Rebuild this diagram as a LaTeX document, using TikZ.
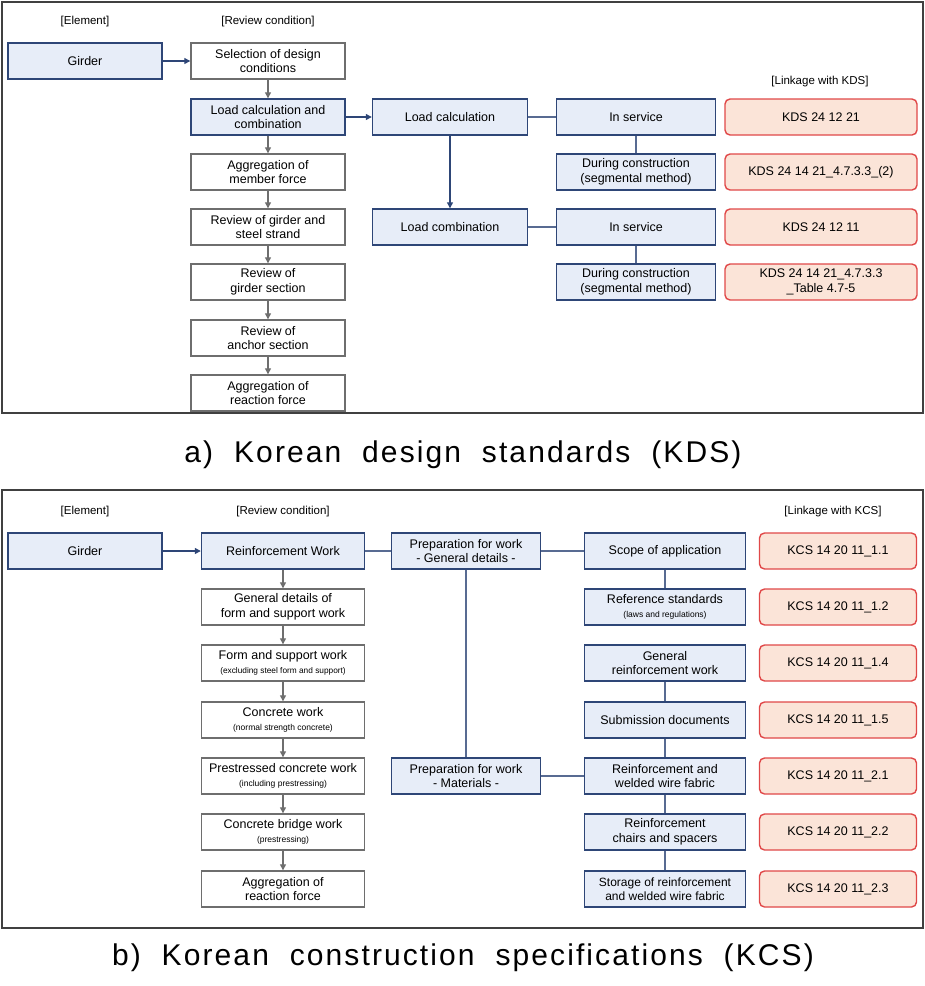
\documentclass[tikz,border=0pt]{standalone}
\usepackage{fontspec}
\setmainfont{Liberation Sans}
\newfontfamily\capfont[LetterSpace=7,WordSpace=2.0]{Liberation Sans}
\usetikzlibrary{arrows.meta}
\definecolor{bfill}{HTML}{E7EDF8}
\definecolor{bdraw}{HTML}{2E4677}
\definecolor{gdraw}{HTML}{6E6E6E}
\definecolor{rdraw}{HTML}{E04848}
\definecolor{rfill}{HTML}{FBE4D8}
\begin{document}
\begin{tikzpicture}[x=1pt,y=-1pt,
  base/.style={draw, line width=1.4pt, align=center, inner sep=1pt, font=\fontsize{12.5}{14.5}\selectfont},
  blue/.style={base, fill=bfill, draw=bdraw},
  gray/.style={base, fill=white, draw=gdraw},
  red/.style={base, fill=rfill, draw=rdraw, rounded corners=5pt},
  hdr/.style={font=\fontsize{11.5}{13}\selectfont},
  garr/.style={draw=gdraw, line width=1.2pt, -{Triangle[length=6pt,width=6pt]}},
  barr/.style={draw=bdraw, line width=1.2pt, -{Triangle[length=6pt,width=6pt]}},
  bl/.style={draw=bdraw!80, line width=1.2pt}]
\useasboundingbox (0,0) rectangle (925,986);
\draw[line width=1.2pt, black!75] (2,2) rectangle (923,413);
\draw[line width=1.2pt, black!75] (2,490) rectangle (923,928);
% panel a
\node[hdr] (ha1) at (85,22) {[Element]};
\node[hdr] (ha2) at (268,22) {[Review condition]};
\node[hdr] (ha3) at (820,82) {[Linkage with KDS]};
\node[blue, minimum width=154, minimum height=36] (ag) at (85,61) {Girder};
\tikzset{rc/.style={minimum width=154, minimum height=36}}
\node[gray, rc] (a1) at (268,61) {Selection of design\\conditions};
\node[blue, rc] (a2) at (268,117) {Load calculation and\\combination};
\node[gray, rc] (a3) at (268,172) {Aggregation of\\member force};
\node[gray, rc] (a4) at (268,227) {Review of girder and\\steel strand};
\node[gray, rc] (a5) at (268,282) {Review of\\girder section};
\node[gray, rc] (a6) at (268,338) {Review of\\anchor section};
\node[gray, rc] (a7) at (268,393) {Aggregation of\\reaction force};
\node[blue, minimum width=155, minimum height=36] (alc) at (450,117) {Load calculation};
\node[blue, minimum width=155, minimum height=36] (alm) at (450,227) {Load combination};
\tikzset{sc/.style={minimum width=159, minimum height=36}}
\node[blue, sc] (s1) at (636,117) {In service};
\node[blue, sc] (s2) at (636,172) {During construction\\(segmental method)};
\node[blue, sc] (s3) at (636,227) {In service};
\node[blue, sc] (s4) at (636,282) {During construction\\(segmental method)};
\tikzset{kc/.style={minimum width=192, minimum height=36}}
\node[red, kc] (k1) at (821,117) {KDS 24 12 21};
\node[red, kc] (k2) at (821,172) {KDS 24 14 21\_4.7.3.3\_(2)};
\node[red, kc] (k3) at (821,227) {KDS 24 12 11};
\node[red, kc] (k4) at (821,282) {KDS 24 14 21\_4.7.3.3\\\_Table 4.7-5};
\draw[barr] (ag) -- (a1);
\foreach \i/\j in {a1/a2,a2/a3,a3/a4,a4/a5,a5/a6,a6/a7} \draw[garr] (\i) -- (\j);
\draw[barr] (a2) -- (alc);
\draw[barr] (alc) -- (alm);
\draw[bl] (alc) -- (s1); \draw[bl] (s1) -- (s2);
\draw[bl] (alm) -- (s3); \draw[bl] (s3) -- (s4);
\node[font=\capfont\fontsize{30}{34}\selectfont] (capa) at (463,455) {a) Korean design standards (KDS)};
% panel b
\node[hdr] (hb1) at (85,512) {[Element]};
\node[hdr] (hb2) at (283,512) {[Review condition]};
\node[hdr] (hb3) at (833,512) {[Linkage with KCS]};
\node[blue, minimum width=154, minimum height=36] (bg) at (85,551) {Girder};
\tikzset{rb/.style={minimum width=163, minimum height=36}}
\node[blue, rb] (b1) at (283,551) {Reinforcement Work};
\node[gray, rb] (b2) at (283,607) {General details of\\form and support work};
\node[gray, rb] (b3) at (283,663) {Form and support work\\{\fontsize{8.3}{10}\selectfont (excluding steel form and support)}};
\node[gray, rb] (b4) at (283,720) {Concrete work\\{\fontsize{8.5}{10}\selectfont (normal strength concrete)}};
\node[gray, rb] (b5) at (283,776) {Prestressed concrete work\\{\fontsize{8.5}{10}\selectfont (including prestressing)}};
\node[gray, rb] (b6) at (283,832) {Concrete bridge work\\{\fontsize{8.5}{10}\selectfont (prestressing)}};
\node[gray, rb] (b7) at (283,889) {Aggregation of\\reaction force};
\node[blue, minimum width=149, minimum height=36] (pg) at (466,551) {Preparation for work\\- General details -};
\node[blue, minimum width=149, minimum height=36] (pm) at (466,776) {Preparation for work\\- Materials -};
\tikzset{tc/.style={minimum width=161, minimum height=36}}
\node[blue, tc] (t1) at (665,551) {Scope of application};
\node[blue, tc] (t2) at (665,607) {Reference standards\\{\fontsize{8.5}{10}\selectfont (laws and regulations)}};
\node[blue, tc] (t3) at (665,663) {General\\reinforcement work};
\node[blue, tc] (t4) at (665,720) {Submission documents};
\node[blue, tc] (t5) at (665,776) {Reinforcement and\\welded wire fabric};
\node[blue, tc] (t6) at (665,832) {Reinforcement\\chairs and spacers};
\node[blue, tc, font=\fontsize{12}{14.5}\selectfont] (t7) at (665,889) {Storage of reinforcement\\and welded wire fabric};
\tikzset{kb/.style={minimum width=157, minimum height=36}}
\node[red, kb] (c1) at (838,551) {KCS 14 20 11\_1.1};
\node[red, kb] (c2) at (838,607) {KCS 14 20 11\_1.2};
\node[red, kb] (c3) at (838,663) {KCS 14 20 11\_1.4};
\node[red, kb] (c4) at (838,720) {KCS 14 20 11\_1.5};
\node[red, kb] (c5) at (838,776) {KCS 14 20 11\_2.1};
\node[red, kb] (c6) at (838,832) {KCS 14 20 11\_2.2};
\node[red, kb] (c7) at (838,889) {KCS 14 20 11\_2.3};
\draw[barr] (bg) -- (b1);
\foreach \i/\j in {b1/b2,b2/b3,b3/b4,b4/b5,b5/b6,b6/b7} \draw[garr] (\i) -- (\j);
\draw[bl] (b1) -- (pg); \draw[bl] (pg) -- (t1); \draw[bl] (pg) -- (pm); \draw[bl] (pm) -- (t5);
\foreach \i/\j in {t1/t2,t3/t4,t4/t5,t5/t6,t6/t7} \draw[bl] (\i) -- (\j);
\node[font=\capfont\fontsize{30}{34}\selectfont] (capb) at (463,958) {b) Korean construction specifications (KCS)};
\end{tikzpicture}
\end{document}
